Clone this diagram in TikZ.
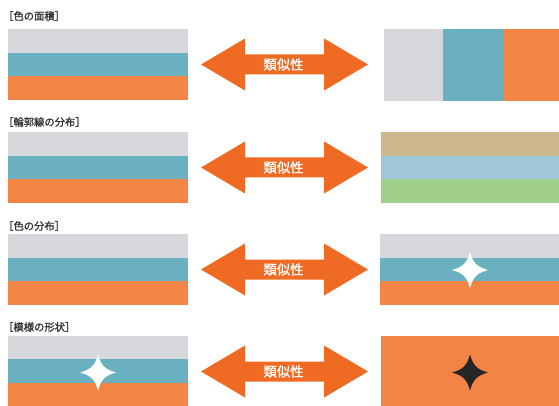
\documentclass[tikz,border=0pt]{standalone}
\usepackage{fontspec}
\newfontfamily\jp[FakeBold=1.2]{Noto Sans CJK JP}
\newfontfamily\jpb[FakeBold=1.5]{Noto Sans CJK JP}
\definecolor{cgray}{HTML}{D7D8DC}
\definecolor{cteal}{HTML}{6BB0C1}
\definecolor{corange}{HTML}{F28446}
\definecolor{carrow}{HTML}{EF6B24}
\definecolor{ctan}{HTML}{CDB88B}
\definecolor{clblue}{HTML}{A0C7D7}
\definecolor{cgreen}{HTML}{A0CF89}
\definecolor{ctext}{HTML}{333333}
\tikzset{
  ttl/.style={anchor=west, inner sep=0pt, text=ctext, font=\jp\fontsize{10.3}{11}\selectfont},
  lbl/.style={inner sep=0pt, text=white, font=\jpb\fontsize{13.3}{14}\selectfont},
  dblarrow/.pic={\fill[carrow] (-83.5,0) -- (-39.5,-26) -- (-39.5,-10) -- (39.5,-10) -- (39.5,-26) -- (83.5,0) -- (39.5,26) -- (39.5,10) -- (-39.5,10) -- (-39.5,26) -- cycle;},
  starpic/.pic={\fill (0,-18) .. controls (3,-7) and (7,-3) .. (18,0) .. controls (7,3) and (3,7) .. (0,18) .. controls (-3,7) and (-7,3) .. (-18,0) .. controls (-7,-3) and (-3,-7) .. (0,-18) -- cycle;}
}
\begin{document}
\begin{tikzpicture}[x=1pt,y=-1pt]
\useasboundingbox[fill=white] (0,0) rectangle (559,406);
% ---- row 1
\node[ttl] (t1) at (3,16) {［色の面積］};
\fill[cgray] (7.5,29.3) rectangle (188,52.7);
\fill[cteal] (7.5,52.7) rectangle (188,76);
\fill[corange] (7.5,76) rectangle (188,100);
\fill[cgray] (384,29.3) rectangle (443,101.5);
\fill[cteal] (443,29.3) rectangle (502.5,101.5);
\fill[corange] (502.5,29.3) rectangle (559,101.5);
\pic at (284.5,64.5) {dblarrow};
\node[lbl] (a1) at (283.5,64.5) {類似性};
% ---- row 2
\node[ttl] (t2) at (3,122) {［輪郭線の分布］};
\fill[cgray] (7.5,132) rectangle (188,156);
\fill[cteal] (7.5,156) rectangle (188,179.3);
\fill[corange] (7.5,179.3) rectangle (188,203);
\fill[ctan] (381,132) rectangle (559,156);
\fill[clblue] (381,156) rectangle (559,179.3);
\fill[cgreen] (381,179.3) rectangle (559,203);
\pic at (284.5,167.5) {dblarrow};
\node[lbl] (a2) at (283.5,167.5) {類似性};
% ---- row 3
\node[ttl] (t3) at (3,226) {［色の分布］};
\fill[cgray] (7.5,234) rectangle (188,257.7);
\fill[cteal] (7.5,257.7) rectangle (188,281);
\fill[corange] (7.5,281) rectangle (188,305);
\fill[cgray] (380,234) rectangle (559,257.7);
\fill[cteal] (380,257.7) rectangle (559,281);
\fill[corange] (380,281) rectangle (559,305);
\pic[white] at (470,270) {starpic};
\pic at (284.5,269.5) {dblarrow};
\node[lbl] (a3) at (283.5,269.5) {類似性};
% ---- row 4
\node[ttl] (t4) at (3,327) {［模様の形状］};
\fill[cgray] (7.5,336) rectangle (188,359.3);
\fill[cteal] (7.5,359.3) rectangle (188,383.3);
\fill[corange] (7.5,383.3) rectangle (188,406);
\pic[white] at (98,372.5) {starpic};
\fill[corange] (380.5,335.7) rectangle (559,406);
\pic[black!85] at (470,372.5) {starpic};
\pic at (284.5,371.5) {dblarrow};
\node[lbl] (a4) at (283.5,371.5) {類似性};
\end{tikzpicture}
\end{document}
